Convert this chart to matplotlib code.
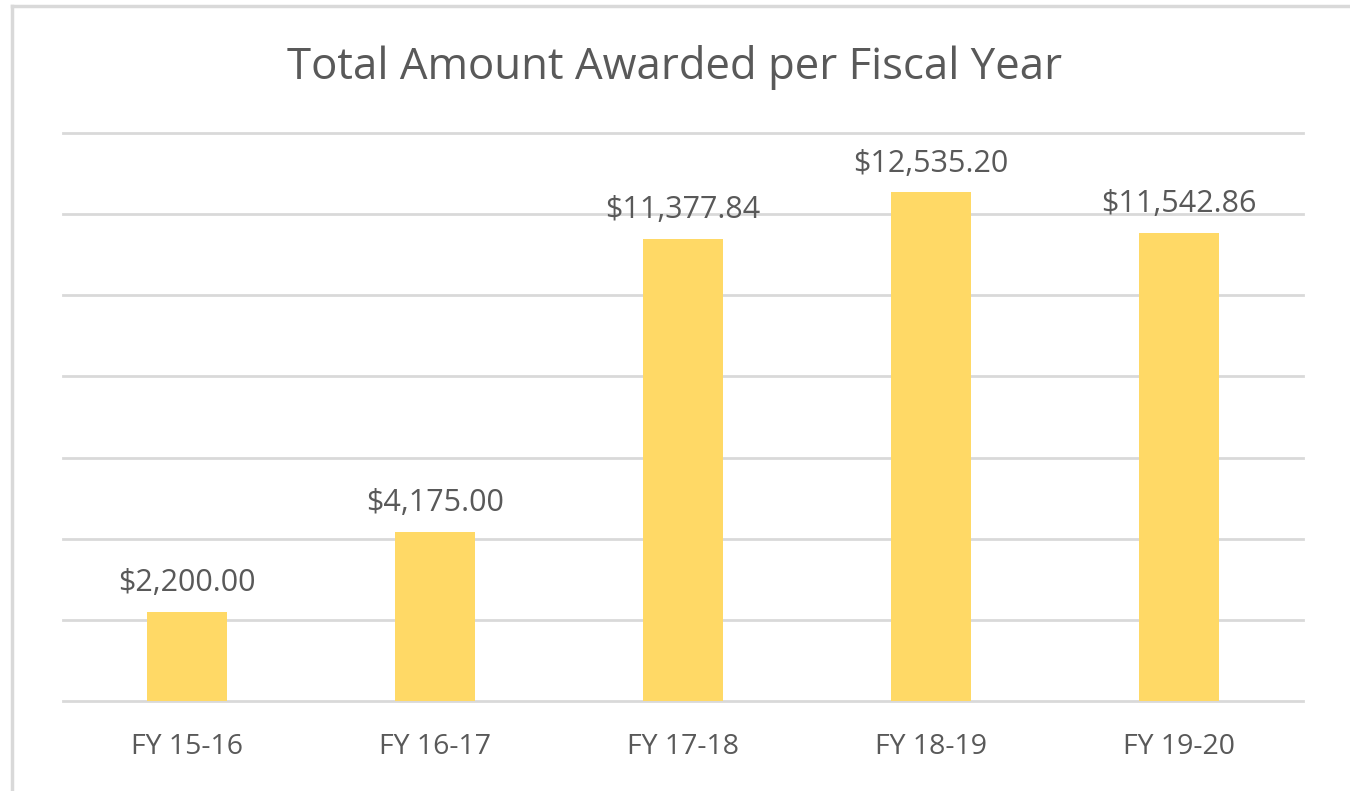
import matplotlib.pyplot as plt
from matplotlib.lines import Line2D

years = ["FY 15-16", "FY 16-17", "FY 17-18", "FY 18-19", "FY 19-20"]
awarded = [2200.00, 4175.00, 11377.84, 12535.20, 11542.86]

plt.rcParams["font.family"] = ["Open Sans", "DejaVu Sans"]
text_color = "#595959"
grid_color = "#D9D9D9"

fig = plt.figure(figsize=(13.5, 7.91), dpi=100)
# chart border (only top and left edges are visible in the crop)
bx, by = 12 / 1350, 1 - 6 / 791
fig.add_artist(Line2D([bx, 1.0], [by, by], transform=fig.transFigure, color=grid_color, linewidth=2.5))
fig.add_artist(Line2D([bx, bx], [0.0, by], transform=fig.transFigure, color=grid_color, linewidth=2.5))

ax = fig.add_axes([63 / 1350, 1 - 701 / 791, 1240 / 1350, 568 / 791])
x = range(len(years))
bars = ax.bar(x, awarded, width=0.32, color="#FFD966", zorder=2)
ax.set_xlim(-0.5, len(years) - 0.5)
ax.set_ylim(0, 14000)
ax.set_yticks(range(0, 14001, 2000))
ax.yaxis.grid(True, color=grid_color, linewidth=2)
for gl in ax.get_ygridlines():
    gl.set_clip_on(False)
ax.set_yticklabels([])
ax.tick_params(axis="y", length=0)
ax.tick_params(axis="x", length=0, pad=23, labelsize=20.5, labelcolor=text_color)
ax.set_xticks(list(x))
ax.set_xticklabels(years)
for s in ax.spines.values():
    s.set_visible(False)

for b, v in zip(bars, awarded):
    ax.annotate(f"${v:,.2f}", (b.get_x() + b.get_width() / 2, v), xytext=(0, 10),
                textcoords="offset points", ha="center", va="bottom",
                fontsize=22, color=text_color)

fig.text(0.5, 1 - 68 / 791, "Total Amount Awarded per Fiscal Year", ha="center", va="center",
         fontsize=31.5, color=text_color)

fig.savefig("out.png", dpi=100)
